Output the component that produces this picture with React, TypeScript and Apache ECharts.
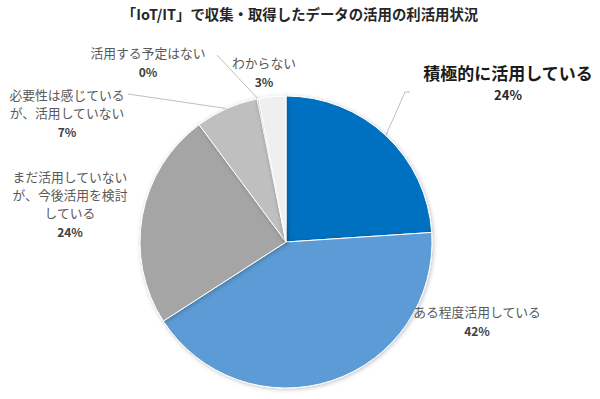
import React, { useEffect, useRef } from "react";
import * as echarts from "echarts";

const title = "「IoT/IT」で収集・取得したデータの活用の利活用状況";
const categories = [
  "積極的に活用している",
  "ある程度活用している",
  "まだ活用していない\nが、今後活用を検討\nしている",
  "必要性は感じている\nが、活用していない",
  "活用する予定はない",
  "わからない",
];
const values = [24, 42, 24, 7, 0, 3];
const colors = ["#0070C0", "#5B9BD5", "#A5A5A5", "#BFBFBF", "#9DB3CF", "#EFEFEF"];

// label anchor: [centerX, topY, leaderEndX, leaderEndY] (leaderEnd null = no line)
const labelLayoutTable: Array<[number, number, number | null, number | null]> = [
  [508, 61, 408, 92],
  [477, 302, null, null],
  [70, 167, null, null],
  [67, 85, 128, 94],
  [148, 43, 217, 55],
  [264, 53, null, null],
];

const FONT = "'Noto Sans CJK JP', 'Noto Sans', sans-serif";

export default function App() {
  const ref = useRef<HTMLDivElement>(null);
  useEffect(() => {
    if (!ref.current) return;
    const chart = echarts.init(ref.current, undefined, { renderer: "svg" });
    const data = categories.map((name, i) => ({
      name,
      value: values[i],
      itemStyle: { color: colors[i] },
      labelLine: { show: labelLayoutTable[i][2] != null },
    }));
    chart.setOption({
      animation: false,
      backgroundColor: "#ffffff",
      title: {
        text: title,
        left: "center",
        top: 1,
        textStyle: { fontFamily: FONT, fontSize: 14.4, fontWeight: "bold", color: "#262626" },
      },
      series: [
        {
          type: "pie",
          center: [286, 242],
          radius: 146,
          startAngle: 90,
          clockwise: true,
          minAngle: 0.6,
          avoidLabelOverlap: false,
          itemStyle: {
            borderColor: "#ffffff",
            borderWidth: 1,
            shadowBlur: 4,
            shadowColor: "rgba(0,0,0,0.25)",
            shadowOffsetX: 1,
            shadowOffsetY: 1,
          },
          emphasis: { disabled: true },
          label: {
            show: true,
            position: "outside",
            fontFamily: FONT,
            formatter: (p: any) => {
              const lines = String(p.name).split("\n");
              if (p.dataIndex === 0) {
                return lines.map((l) => `{nb|${l}}`).join("\n") + `\n{vb|${p.value}%}`;
              }
              return lines.map((l) => `{n|${l}}`).join("\n") + `\n{v|${p.value}%}`;
            },
            rich: {
              n: { fontFamily: FONT, fontSize: 12.8, color: "#595959", lineHeight: 18, align: "center" },
              v: { fontFamily: FONT, fontSize: 12, fontWeight: "bold", color: "#404040", lineHeight: 20, align: "center" },
              nb: { fontFamily: FONT, fontSize: 17, fontWeight: "bold", color: "#1a1a1a", lineHeight: 22, align: "center" },
              vb: { fontFamily: FONT, fontSize: 13, fontWeight: "bold", color: "#262626", lineHeight: 22, align: "center" },
            },
          },
          labelLine: {
            show: true,
            lineStyle: { color: "#BFBFBF", width: 1 },
          },
          labelLayout: (params: any) => {
            const t = labelLayoutTable[params.dataIndex];
            const out: any = { x: t[0], y: t[1], align: "center", verticalAlign: "top" };
            if (t[2] != null && params.labelLinePoints) {
              const s = params.labelLinePoints[0];
              if (params.dataIndex === 0) {
                out.labelLinePoints = [
                  [s[0], s[1]],
                  [t[2] - 3, t[3]],
                  [t[2] + 2, t[3]],
                ];
              } else {
                out.labelLinePoints = [
                  [s[0], s[1]],
                  [(s[0] + t[2]) / 2, (s[1] + t[3]) / 2],
                  [t[2], t[3]],
                ];
              }
            }
            return out;
          },
          data,
        },
      ],
    });
    return () => chart.dispose();
  }, []);
  return <div ref={ref} style={{ width: 600, height: 399, position: "absolute", left: 0, top: 0 }} />;
}
